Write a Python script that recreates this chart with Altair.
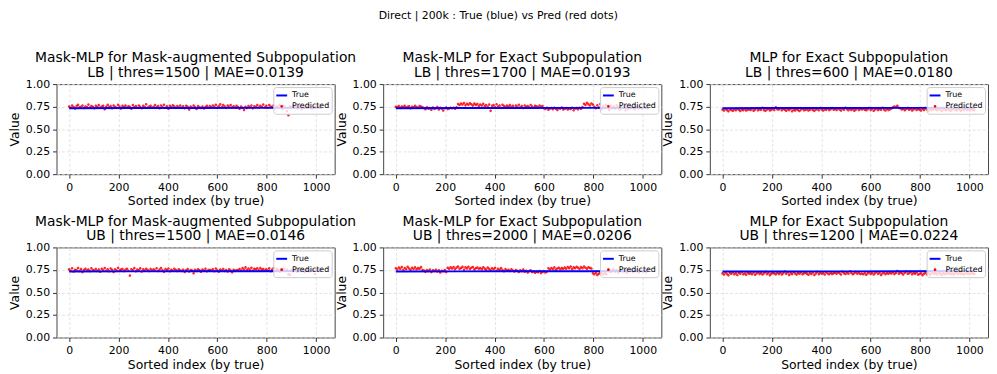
import altair as alt
import pandas as pd

# ---------------- data ----------------
suptitle = "Direct | 200k : True (blue) vs Pred (red dots)"
series_names = ["True", "Predicted"]
x_ticks = [0, 200, 400, 600, 800, 1000]
y_ticks = [0.0, 0.25, 0.5, 0.75, 1.0]

titles = [
    ["Mask-MLP for Mask-augmented Subpopulation", "LB | thres=1500 | MAE=0.0139"],
    ["Mask-MLP for Exact Subpopulation", "LB | thres=1700 | MAE=0.0193"],
    ["MLP for Exact Subpopulation", "LB | thres=600 | MAE=0.0180"],
    ["Mask-MLP for Mask-augmented Subpopulation", "UB | thres=1500 | MAE=0.0146"],
    ["Mask-MLP for Exact Subpopulation", "UB | thres=2000 | MAE=0.0206"],
    ["MLP for Exact Subpopulation", "UB | thres=1200 | MAE=0.0224"],
]

# sorted index positions of the true curve and of the (sampled) predictions
true_idx = [0, 256, 512, 768, 1024]
pred_idx = list(range(0, 1025, 6))

true_vals = [
    [0.733, 0.734, 0.735, 0.736, 0.738],
    [0.733, 0.734, 0.735, 0.736, 0.738],
    [0.733, 0.734, 0.735, 0.736, 0.738],
    [0.733, 0.734, 0.735, 0.736, 0.738],
    [0.733, 0.734, 0.735, 0.736, 0.738],
    [0.732, 0.733, 0.734, 0.735, 0.737],
]

pred_lb_maskaug = [
    .752, .738, .761, .745, .729, .756, .770, .741, .748, .763, .735, .752, .744, .772, .739, .757, .748, .731, .760,
    .745, .766, .737, .752, .759, .722, .748, .769, .741, .755, .733, .762, .747, .738, .771, .750, .728, .758, .744,
    .761, .739, .753, .747, .725, .766, .742, .757, .736, .763, .749, .731, .758, .744, .775, .740, .752, .760, .737,
    .749, .768, .741, .755, .733, .762, .746, .770, .738, .753, .727, .759, .744, .765, .750, .736, .757, .742, .763,
    .740, .754, .731, .760, .747, .718, .751, .738, .762, .745, .724, .756, .741, .734, .752, .729, .746, .758, .737,
    .755, .742, .763, .748, .771, .739, .757, .777, .744, .766, .750, .736, .761, .747, .768, .741, .753, .739, .758,
    .744, .727, .752, .738, .713, .749, .735, .757, .742, .761, .731, .754, .746, .766, .740, .758, .749, .772, .743,
    .760, .738, .768, .751, .744, .765, .733, .756, .742, .770, .748, .724, .757, .738, .702, .655, .751, .745, .762,
    .739, .753, .731, .748, .760, .722, .746, .757, .735, .749, .764, .741, .728, .752, .744, .737, .755, .742, .748,
]
pred_lb_maskexact = [
    .748, .741, .755, .736, .750, .744, .758, .739, .747, .753, .731, .749, .742, .760, .745, .738, .756, .751, .743,
    .735, .722, .741, .728, .733, .716, .739, .725, .731, .744, .719, .736, .727, .706, .732, .740, .723, .729, .737,
    .731, .738, .726, .742, .779, .768, .785, .772, .790, .764, .781, .770, .788, .775, .761, .783, .769, .778, .757,
    .774, .762, .781, .755, .768, .747, .772, .703, .759, .766, .742, .776, .751, .763, .738, .770, .756, .745, .761,
    .752, .766, .744, .759, .738, .761, .749, .770, .743, .756, .734, .762, .747, .755, .741, .768, .750, .737, .758,
    .754, .742, .763, .749, .757, .731, .724, .738, .716, .729, .734, .721, .737, .726, .713, .732, .728, .740, .719,
    .727, .735, .718, .730, .724, .738, .709, .729, .733, .722, .737, .726, .745, .781, .769, .793, .776, .762, .785,
    .772, .748, .731, .765, .740, .778, .722, .757, .736, .769, .745, .713, .760, .733, .751, .727, .764, .742, .719,
    .748, .732, .756, .709, .741, .726, .752, .737, .745, .721, .739, .750, .733, .744, .728, .741, .736, .747, .730,
]
pred_lb_mlp = [
    .718, .706, .725, .711, .699, .720, .713, .704, .722, .709, .727, .715, .702, .719, .710, .724, .707, .716, .721,
    .712, .728, .705, .717, .731, .709, .722, .714, .736, .711, .703, .719, .725, .708, .716, .729, .713, .742, .722,
    .719, .731, .710, .725, .715, .704, .722, .711, .727, .698, .716, .708, .720, .713, .702, .718, .726, .709, .714,
    .721, .707, .716, .728, .712, .703, .719, .724, .710, .733, .717, .706, .722, .714, .729, .711, .720, .735, .716,
    .724, .712, .730, .718, .707, .726, .715, .738, .720, .709, .727, .713, .723, .705, .717, .731, .711, .725, .719,
    .728, .716, .709, .722, .734, .713, .726, .704, .719, .730, .711, .724, .715, .737, .718, .706, .727, .713, .721,
    .729, .741, .752, .745, .758, .736, .731, .719, .727, .710, .723, .733, .715, .726, .708, .721, .730, .712, .724,
    .716, .707, .726, .713, .733, .719, .702, .724, .711, .729, .715, .720, .708, .727, .714, .700, .722, .717, .710,
    .723, .712, .705, .718, .729, .714, .708, .725, .716, .702, .720, .711, .727, .713, .719, .706, .722, .715, .709,
]
pred_ub_maskaug = [
    .756, .741, .768, .733, .752, .745, .771, .738, .759, .726, .748, .764, .742, .753, .737, .769, .750, .744, .761,
    .739, .755, .731, .762, .746, .772, .740, .758, .735, .766, .751, .728, .757, .744, .775, .742, .753, .760, .737,
    .752, .764, .741, .687, .758, .745, .770, .736, .753, .747, .767, .733, .756, .742, .763, .749, .738, .761, .744,
    .757, .743, .769, .738, .754, .772, .745, .729, .759, .748, .766, .735, .752, .741, .763, .750, .737, .756, .744,
    .738, .751, .727, .746, .760, .733, .749, .743, .714, .752, .739, .757, .745, .731, .754, .741, .762, .736, .748,
    .750, .742, .758, .736, .765, .747, .730, .754, .744, .761, .738, .749, .734, .756, .743, .725, .752, .740, .746,
    .749, .761, .743, .770, .755, .778, .748, .766, .752, .774, .744, .763, .757, .769, .746, .772, .753, .760, .741,
    .758, .744, .767, .736, .753, .771, .740, .762, .749, .733, .757, .745, .766, .739, .751, .703, .697, .748, .736,
    .742, .756, .731, .749, .763, .738, .752, .727, .745, .758, .734, .747, .760, .741, .705, .750, .737, .754, .743,
]
pred_ub_maskexact = [
    .768, .755, .777, .762, .783, .749, .771, .760, .786, .765, .752, .774, .761, .779, .757, .770, .763, .781, .748,
    .742, .731, .749, .737, .755, .726, .745, .739, .752, .733, .747, .721, .741, .736, .750, .728, .773, .762, .779,
    .766, .781, .758, .776, .789, .763, .772, .784, .751, .778, .767, .786, .760, .774, .782, .756, .769, .777, .763,
    .771, .759, .780, .765, .753, .776, .762, .745, .768, .757, .774, .741, .763, .752, .770, .748, .736, .759, .744,
    .751, .738, .757, .744, .732, .749, .740, .727, .746, .735, .753, .729, .741, .722, .737, .745, .726, .733, .719,
    .731, .724, .738, .715, .729, .735, .721, .733, .768, .755, .772, .761, .779, .753, .766, .774, .758, .770, .763,
    .776, .764, .782, .770, .787, .759, .778, .768, .785, .773, .761, .781, .769, .788, .775, .763, .780, .771, .766,
    .714, .702, .719, .695, .708, .722, .711, .699, .716, .705, .738, .752, .727, .745, .760, .733, .749, .721, .741,
    .736, .755, .729, .748, .718, .744, .737, .752, .726, .741, .733, .758, .722, .746, .739, .731, .750, .724, .743,
]
pred_ub_mlp = [
    .712, .698, .721, .705, .690, .716, .708, .724, .701, .713, .694, .719, .707, .727, .703, .711, .696, .718, .709,
    .714, .703, .722, .697, .710, .725, .706, .717, .699, .713, .728, .704, .716, .692, .709, .720, .711, .701, .718,
    .706, .719, .700, .713, .733, .708, .721, .695, .715, .704, .726, .710, .698, .717, .707, .723, .702, .714, .719,
    .709, .697, .716, .705, .722, .693, .711, .728, .703, .718, .707, .715, .699, .724, .710, .702, .719, .706, .713,
    .718, .707, .725, .712, .700, .731, .714, .705, .721, .709, .736, .716, .702, .713, .727, .708, .719, .704, .711,
    .703, .715, .696, .712, .724, .706, .718, .699, .713, .729, .708, .717, .694, .711, .722, .702, .715, .707, .720,
    .711, .725, .704, .716, .738, .709, .721, .713, .700, .719, .732, .707, .714, .726, .703, .717, .709, .722, .698,
    .705, .714, .692, .708, .720, .701, .715, .697, .711, .724, .706, .713, .700, .718, .709, .695, .712, .703, .716,
    .708, .719, .701, .714, .699, .712, .725, .704, .717, .706, .710, .698, .721, .707, .713, .702, .716, .709, .705,
]

preds = [pred_lb_maskaug, pred_lb_maskexact, pred_lb_mlp,
         pred_ub_maskaug, pred_ub_maskexact, pred_ub_mlp]

# ---------------- styling ----------------
FONT = "DejaVu Sans"
DOT = "M0,-0.25A0.25,0.25,0,1,1,0,0.25A0.25,0.25,0,1,1,0,-0.25Z"


def panel(title, tv, pv):
    df_true = pd.DataFrame({"idx": true_idx, "value": tv, "series": "True"})
    df_pred = pd.DataFrame({"idx": pred_idx, "value": pv, "series": "Predicted"})

    x = alt.X("idx:Q",
              scale=alt.Scale(domain=[-51.2, 1075.2], nice=False, zero=False),
              axis=alt.Axis(values=x_ticks, title="Sorted index (by true)", format="d"))
    y = alt.Y("value:Q",
              scale=alt.Scale(domain=[0, 1], nice=False),
              axis=alt.Axis(values=y_ticks, title="Value", format=".2f"))

    fill = alt.Fill("series:N", scale=alt.Scale(domain=series_names, range=["blue", "red"]))
    stroke = alt.Stroke("series:N", scale=alt.Scale(domain=series_names, range=["blue", "transparent"]))
    shape = alt.Shape("series:N", scale=alt.Scale(domain=series_names, range=["stroke", DOT]))

    pts = alt.Chart(df_pred).mark_point(filled=True, size=110, strokeWidth=0, opacity=0.85).encode(
        x=x, y=y, fill=fill, stroke=stroke, shape=shape)
    line = alt.Chart(df_true).mark_line(strokeWidth=2).encode(
        x=x, y=y, stroke=stroke)

    return alt.layer(pts, line).properties(
        width=281, height=91,
        title=alt.TitleParams(text=title, fontSize=14, fontWeight="normal",
                              font=FONT, lineHeight=15, offset=-2, color="black"),
    )


charts = [panel(t, tv, pv) for t, tv, pv in zip(titles, true_vals, preds)]

chart = alt.concat(*charts, columns=3, spacing={"row": 74, "column": 49}, bounds="flush").resolve_scale(
    fill="independent", stroke="independent", shape="independent"
).resolve_legend(
    fill="independent", stroke="independent", shape="independent"
).properties(
    title=alt.TitleParams(text=suptitle, fontSize=11, fontWeight="normal", font=FONT,
                          anchor="middle", frame="bounds", offset=27, dy=-3, color="black"),
    padding={"left": 0, "top": 0, "right": 0, "bottom": 0},
).configure(
    font=FONT,
).configure_view(
    stroke="#444", strokeWidth=1,
).configure_axis(
    domain=False,
    grid=True, gridColor="#dcdcdc", gridDash=[3, 2], gridWidth=0.8,
    tickColor="#333", tickSize=4, labelPadding=3,
    labelFont=FONT, labelFontSize=11, labelColor="black",
    titleFont=FONT, titleFontSize=12.5, titleFontWeight="normal", titleColor="black",
    titlePadding=3,
).configure_axisY(
    titlePadding=4,
).configure_legend(
    orient="top-right", offset=3, title=None,
    padding=2, fillColor="rgba(255,255,255,0.8)", strokeColor="#cccccc", cornerRadius=3,
    labelFont=FONT, labelFontSize=8, labelColor="black", labelOffset=4,
    symbolSize=120, symbolStrokeWidth=2, rowPadding=0, symbolOpacity=1,
)

chart.save("out.html", embed_options={"renderer": "svg", "actions": False})
